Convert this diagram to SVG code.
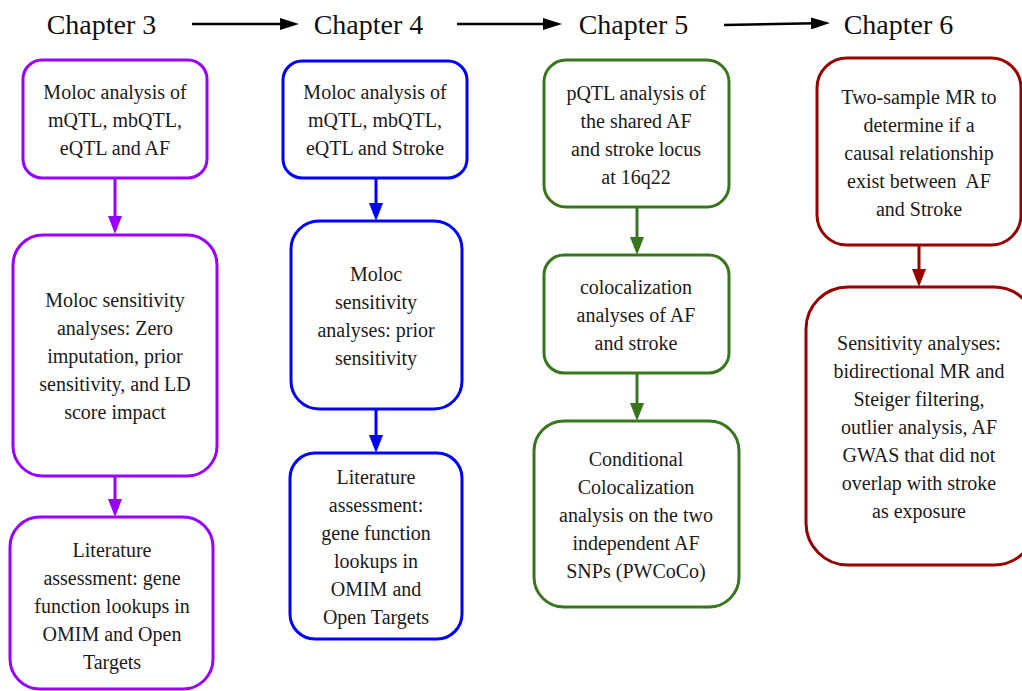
<svg xmlns="http://www.w3.org/2000/svg" width="1022" height="691" viewBox="0 0 1022 691">
<style>
.hdr{font-family:"Liberation Serif","DejaVu Serif",serif;font-size:28px;fill:#111;text-anchor:middle}
.t{font-family:"Liberation Serif","DejaVu Serif",serif;font-size:20px;fill:#1a1a1a;text-anchor:middle}
.box{fill:#fff;stroke-width:3}
.p{stroke:#9900ff}.b{stroke:#0000ff}.g{stroke:#38761d}.r{stroke:#990000}
.ln{fill:none;stroke-width:3}
.k{stroke:#000;stroke-width:2.5}
</style>
<defs>
<marker id="mk" viewBox="0 0 19 12" refX="4" refY="6" markerWidth="19" markerHeight="12" markerUnits="userSpaceOnUse" orient="auto"><path d="M0,0 L19,6 L0,12 z" fill="#000"/></marker>
<marker id="mp" viewBox="0 0 18 14" refX="4" refY="7" markerWidth="18" markerHeight="14" markerUnits="userSpaceOnUse" orient="auto"><path d="M0,0 L18,7 L0,14 z" fill="#9900ff"/></marker>
<marker id="mb" viewBox="0 0 18 14" refX="4" refY="7" markerWidth="18" markerHeight="14" markerUnits="userSpaceOnUse" orient="auto"><path d="M0,0 L18,7 L0,14 z" fill="#0000ff"/></marker>
<marker id="mg" viewBox="0 0 18 14" refX="4" refY="7" markerWidth="18" markerHeight="14" markerUnits="userSpaceOnUse" orient="auto"><path d="M0,0 L18,7 L0,14 z" fill="#38761d"/></marker>
<marker id="mr" viewBox="0 0 18 14" refX="4" refY="7" markerWidth="18" markerHeight="14" markerUnits="userSpaceOnUse" orient="auto"><path d="M0,0 L18,7 L0,14 z" fill="#990000"/></marker>
</defs>
<rect width="1022" height="691" fill="#fff"/>

<g id="headers">
<text class="hdr" x="101.5" y="34">Chapter 3</text>
<text class="hdr" x="368.5" y="34">Chapter 4</text>
<text class="hdr" x="633.5" y="34">Chapter 5</text>
<text class="hdr" x="898.5" y="34">Chapter 6</text>
</g>

<g id="connectors">
<line class="k" x1="192" y1="24" x2="284" y2="24" marker-end="url(#mk)"/>
<line class="k" x1="457" y1="24" x2="547" y2="24" marker-end="url(#mk)"/>
<line class="k" x1="724" y1="25" x2="815" y2="23.3" marker-end="url(#mk)"/>
<line class="ln p" x1="115" y1="178" x2="115" y2="220" marker-end="url(#mp)"/>
<line class="ln p" x1="115" y1="476" x2="115" y2="503" marker-end="url(#mp)"/>
<line class="ln b" x1="376" y1="178" x2="376" y2="207" marker-end="url(#mb)"/>
<line class="ln b" x1="376" y1="409" x2="376" y2="439" marker-end="url(#mb)"/>
<line class="ln g" x1="637" y1="207" x2="637" y2="241" marker-end="url(#mg)"/>
<line class="ln g" x1="637" y1="373" x2="637" y2="407" marker-end="url(#mg)"/>
<line class="ln r" x1="919" y1="245" x2="919" y2="273" marker-end="url(#mr)"/>
</g>

<g id="c3n1">
<rect class="box p" x="23" y="60" width="184" height="118" rx="19"/>
<text class="t" x="115" y="99">Moloc analysis of</text>
<text class="t" x="115" y="127">mQTL, mbQTL,</text>
<text class="t" x="115" y="155">eQTL and AF</text>
</g>
<g id="c3n2">
<rect class="box p" x="13" y="235" width="204" height="241" rx="30"/>
<text class="t" x="115" y="307">Moloc sensitivity</text>
<text class="t" x="115" y="335">analyses: Zero</text>
<text class="t" x="115" y="363">imputation, prior</text>
<text class="t" x="115" y="391">sensitivity, and LD</text>
<text class="t" x="115" y="419">score impact</text>
</g>
<g id="c3n3">
<rect class="box p" x="10" y="517" width="203" height="172" rx="30"/>
<text class="t" x="112" y="557">Literature</text>
<text class="t" x="112" y="585">assessment: gene</text>
<text class="t" x="112" y="613">function lookups in</text>
<text class="t" x="112" y="641">OMIM and Open</text>
<text class="t" x="112" y="669">Targets</text>
</g>

<g id="c4n1">
<rect class="box b" x="283" y="61" width="184" height="117" rx="19"/>
<text class="t" x="375" y="99">Moloc analysis of</text>
<text class="t" x="375" y="127">mQTL, mbQTL,</text>
<text class="t" x="375" y="155">eQTL and Stroke</text>
</g>
<g id="c4n2">
<rect class="box b" x="291" y="221" width="171" height="188" rx="28"/>
<text class="t" x="376" y="281">Moloc</text>
<text class="t" x="376" y="309">sensitivity</text>
<text class="t" x="376" y="337">analyses: prior</text>
<text class="t" x="376" y="365">sensitivity</text>
</g>
<g id="c4n3">
<rect class="box b" x="290" y="453" width="172" height="186" rx="25"/>
<text class="t" x="376" y="484">Literature</text>
<text class="t" x="376" y="512">assessment:</text>
<text class="t" x="376" y="540">gene function</text>
<text class="t" x="376" y="568">lookups in</text>
<text class="t" x="376" y="596">OMIM and</text>
<text class="t" x="376" y="624">Open Targets</text>
</g>

<g id="c5n1">
<rect class="box g" x="544" y="60" width="185" height="147" rx="22"/>
<text class="t" x="636" y="100">pQTL analysis of</text>
<text class="t" x="636" y="128">the shared AF</text>
<text class="t" x="636" y="156">and stroke locus</text>
<text class="t" x="636" y="184">at 16q22</text>
</g>
<g id="c5n2">
<rect class="box g" x="544" y="255" width="185" height="118" rx="20"/>
<text class="t" x="636" y="294">colocalization</text>
<text class="t" x="636" y="322">analyses of AF</text>
<text class="t" x="636" y="350">and stroke</text>
</g>
<g id="c5n3">
<rect class="box g" x="534" y="421" width="205" height="186" rx="30"/>
<text class="t" x="636" y="466">Conditional</text>
<text class="t" x="636" y="494">Colocalization</text>
<text class="t" x="636" y="522">analysis on the two</text>
<text class="t" x="636" y="550">independent AF</text>
<text class="t" x="636" y="578">SNPs (PWCoCo)</text>
</g>

<g id="c6n1">
<rect class="box r" x="817" y="58" width="204" height="187" rx="30"/>
<text class="t" x="919" y="104">Two-sample MR to</text>
<text class="t" x="919" y="132">determine if a</text>
<text class="t" x="919" y="160">causal relationship</text>
<text class="t" x="919" y="188" xml:space="preserve">exist between  AF</text>
<text class="t" x="919" y="216">and Stroke</text>
</g>
<g id="c6n2">
<rect class="box r" x="806" y="287" width="230" height="278" rx="42"/>
<text class="t" x="919" y="350">Sensitivity analyses:</text>
<text class="t" x="919" y="378">bidirectional MR and</text>
<text class="t" x="919" y="406">Steiger filtering,</text>
<text class="t" x="919" y="434">outlier analysis, AF</text>
<text class="t" x="919" y="462">GWAS that did not</text>
<text class="t" x="919" y="490">overlap with stroke</text>
<text class="t" x="919" y="518">as exposure</text>
</g>
</svg>
